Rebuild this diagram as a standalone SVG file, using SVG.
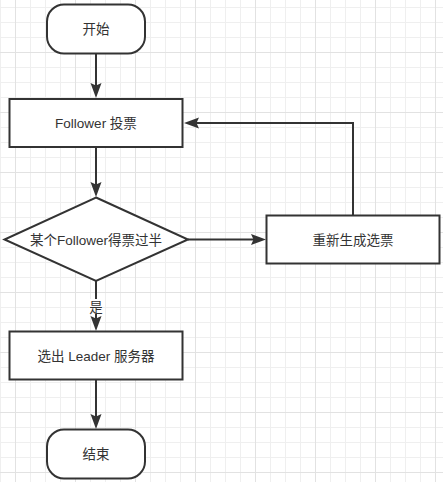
<svg xmlns="http://www.w3.org/2000/svg" width="443" height="482" viewBox="0 0 443 482">
  <defs>
    <pattern id="grid" patternUnits="userSpaceOnUse" x="15" y="52" width="60" height="60">
      <path d="M15.5 0V60M30.5 0V60M45.5 0V60M0 15.5H60M0 30.5H60M0 45.5H60" stroke="#efefef" stroke-width="1" fill="none"/>
      <path d="M0.5 0V60M0 0.5H60" stroke="#e2e2e2" stroke-width="1" fill="none"/>
    </pattern>
    <marker id="arrow" markerUnits="userSpaceOnUse" markerWidth="16" markerHeight="12" viewBox="0 -6 16 12" refX="7" refY="0" orient="auto">
      <path d="M0,-5.5 L15,0 L0,5.5 L2.5,0 Z" fill="#333333"/>
    </marker>
  </defs>
  <style>
    .shape { fill: #ffffff; stroke: #333333; stroke-width: 2; }
    .label { font-family: "Liberation Sans", "Noto Sans CJK SC", sans-serif; font-size: 13.5px; fill: #333333; text-anchor: middle; }
    .edge { fill: none; stroke: #333333; stroke-width: 2; marker-end: url(#arrow); }
  </style>
  <rect x="0" y="0" width="443" height="482" fill="#ffffff"/>
  <rect x="0" y="0" width="443" height="482" fill="url(#grid)"/>

  <g id="connectors">
    <path class="edge" d="M96 53.5V90"/>
    <path class="edge" d="M96 147V189"/>
    <path class="edge" d="M188 239.5H258"/>
    <path class="edge" d="M353 215.5V123H192"/>
    <path class="edge" d="M96 281V323"/>
    <path class="edge" d="M96 379.5V421"/>
    <g id="edge-label-yes">
      <rect x="89" y="299" width="14" height="15" fill="#ffffff"/>
      <text class="label" x="96" y="311.5">是</text>
    </g>
  </g>

  <g id="start">
    <rect class="shape" x="47" y="4.5" width="98" height="49" rx="17" ry="17"/>
    <text class="label" x="96" y="34">开始</text>
  </g>
  <g id="vote">
    <rect class="shape" x="9.5" y="99" width="173" height="48"/>
    <text class="label" x="96" y="128">Follower 投票</text>
  </g>
  <g id="decision">
    <polygon class="shape" points="96,197.5 188,239.5 96,281 4.5,239.5"/>
    <text class="label" x="96" y="244.5">某个Follower得票过半</text>
  </g>
  <g id="revote">
    <rect class="shape" x="266.5" y="215.5" width="173" height="48"/>
    <text class="label" x="353" y="244.5">重新生成选票</text>
  </g>
  <g id="leader">
    <rect class="shape" x="9.5" y="331.5" width="173" height="48"/>
    <text class="label" x="96" y="360.5">选出 Leader 服务器</text>
  </g>
  <g id="end">
    <rect class="shape" x="47" y="429.5" width="98" height="49" rx="17" ry="17"/>
    <text class="label" x="96" y="459">结束</text>
  </g>
</svg>
